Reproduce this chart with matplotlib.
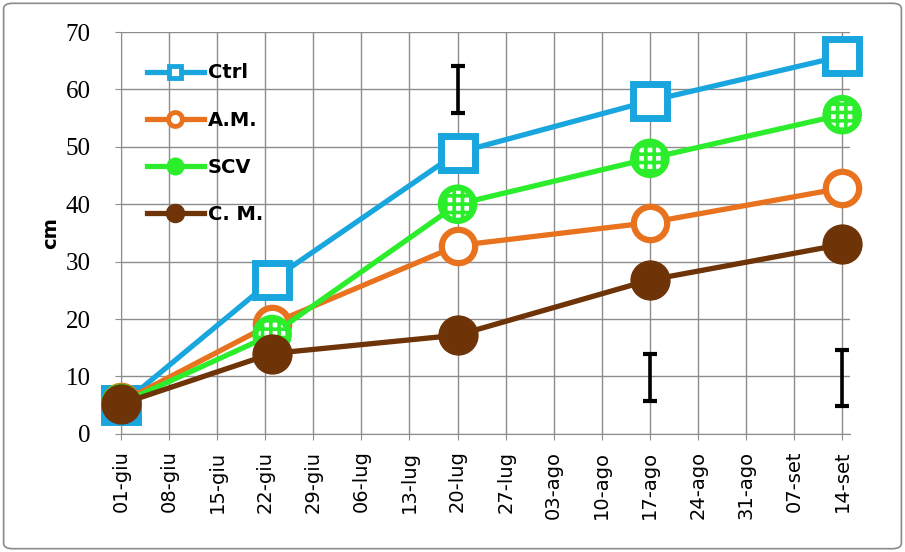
import numpy as np
import matplotlib
matplotlib.use("Agg")
import matplotlib.pyplot as plt
from matplotlib.lines import Line2D
from matplotlib.patches import FancyBboxPatch

# giorni dal 01-giu
tick_days = list(range(0, 106, 7))
tick_labels = ["01-giu", "08-giu", "15-giu", "22-giu", "29-giu", "06-lug", "13-lug",
               "20-lug", "27-lug", "03-ago", "10-ago", "17-ago", "24-ago", "31-ago",
               "07-set", "14-set"]

days = [0, 22, 49, 77, 105]
ctrl = [5.0, 26.8, 49.0, 58.0, 65.8]
am = [5.5, 19.2, 32.8, 36.8, 42.8]
scv = [5.3, 17.3, 40.0, 48.0, 55.6]
cm = [5.2, 14.0, 17.2, 26.8, 33.0]

err_days = [49, 77, 105]
err_mid = [60.0, 9.8, 9.7]
err_half = [4.1, 4.1, 4.9]

C_BLUE = "#19a6de"
C_ORANGE = "#e8721e"
C_GREEN = "#2bed2b"
C_BROWN = "#6e3307"
GRID = "#8c8c8c"

plt.rcParams["hatch.linewidth"] = 2.6

fig = plt.figure(figsize=(9.05, 5.52), dpi=100)
ax = fig.add_axes([0.1337, 0.214, 0.806, 0.728])

lw = 3.8
ax.plot(days, ctrl, color=C_BLUE, lw=lw, marker="s", ms=25, mfc="white",
        mec=C_BLUE, mew=5, zorder=3, clip_on=False)
ax.plot(days, am, color=C_ORANGE, lw=lw, marker="o", ms=24, mfc="white",
        mec=C_ORANGE, mew=4.5, zorder=4, clip_on=False)
ax.plot(days, scv, color=C_GREEN, lw=lw, zorder=5, clip_on=False)
ax.scatter(days, scv, s=24 ** 2, facecolor="white", edgecolor=C_GREEN,
           linewidth=4.5, hatch="++", zorder=5.5, clip_on=False)
ax.plot(days, cm, color=C_BROWN, lw=lw, marker="o", ms=28, mfc=C_BROWN,
        mec=C_BROWN, mew=1, zorder=6, clip_on=False)

ax.errorbar(err_days, err_mid, yerr=err_half, fmt="none", ecolor="black",
            elinewidth=2.6, capsize=5, capthick=3, zorder=7)

ax.set_xlim(0, 106.2)
ax.set_ylim(0, 70)
ax.set_xticks(tick_days)
ax.set_xticklabels(tick_labels, rotation=90, fontsize=14, family="DejaVu Sans")
ax.set_yticks(range(0, 71, 10))
ax.set_yticklabels([str(v) for v in range(0, 71, 10)], fontsize=18,
                   family="Liberation Serif")
ax.grid(True, color=GRID, lw=1)
ax.set_axisbelow(True)
for s in ["top", "right"]:
    ax.spines[s].set_visible(False)
for s in ["left", "bottom"]:
    ax.spines[s].set_color(GRID)
ax.tick_params(axis="both", color=GRID, length=4)
ax.tick_params(axis="y", pad=18)
ax.tick_params(axis="x", pad=8)
ax.set_ylabel("cm", fontsize=14, fontweight="bold", labelpad=4)

handles = [
    Line2D([], [], color=C_BLUE, lw=lw, marker="s", ms=9, mfc="white", mec=C_BLUE, mew=3.5),
    Line2D([], [], color=C_ORANGE, lw=lw, marker="o", ms=10, mfc="white", mec=C_ORANGE, mew=3.5),
    Line2D([], [], color=C_GREEN, lw=lw, marker="o", ms=12, mfc=C_GREEN, mec=C_GREEN, mew=1),
    Line2D([], [], color=C_BROWN, lw=lw, marker="o", ms=13, mfc=C_BROWN, mec=C_BROWN, mew=1),
]
ax.legend(handles, ["Ctrl", "A.M.", "SCV", "C. M."], loc="upper left",
          bbox_to_anchor=(0.036, 0.922), frameon=False, borderpad=0,
          borderaxespad=0, handlelength=2.9, handletextpad=0.2,
          labelspacing=1.45, prop={"weight": "bold", "size": 14})

fig.patches.append(FancyBboxPatch((0.004, 0.006), 0.992, 0.988,
                                  boxstyle="round,pad=0,rounding_size=0.01",
                                  transform=fig.transFigure, fill=False,
                                  edgecolor="#8a8a8a", lw=1.2))

fig.savefig("out.png", dpi=100)
